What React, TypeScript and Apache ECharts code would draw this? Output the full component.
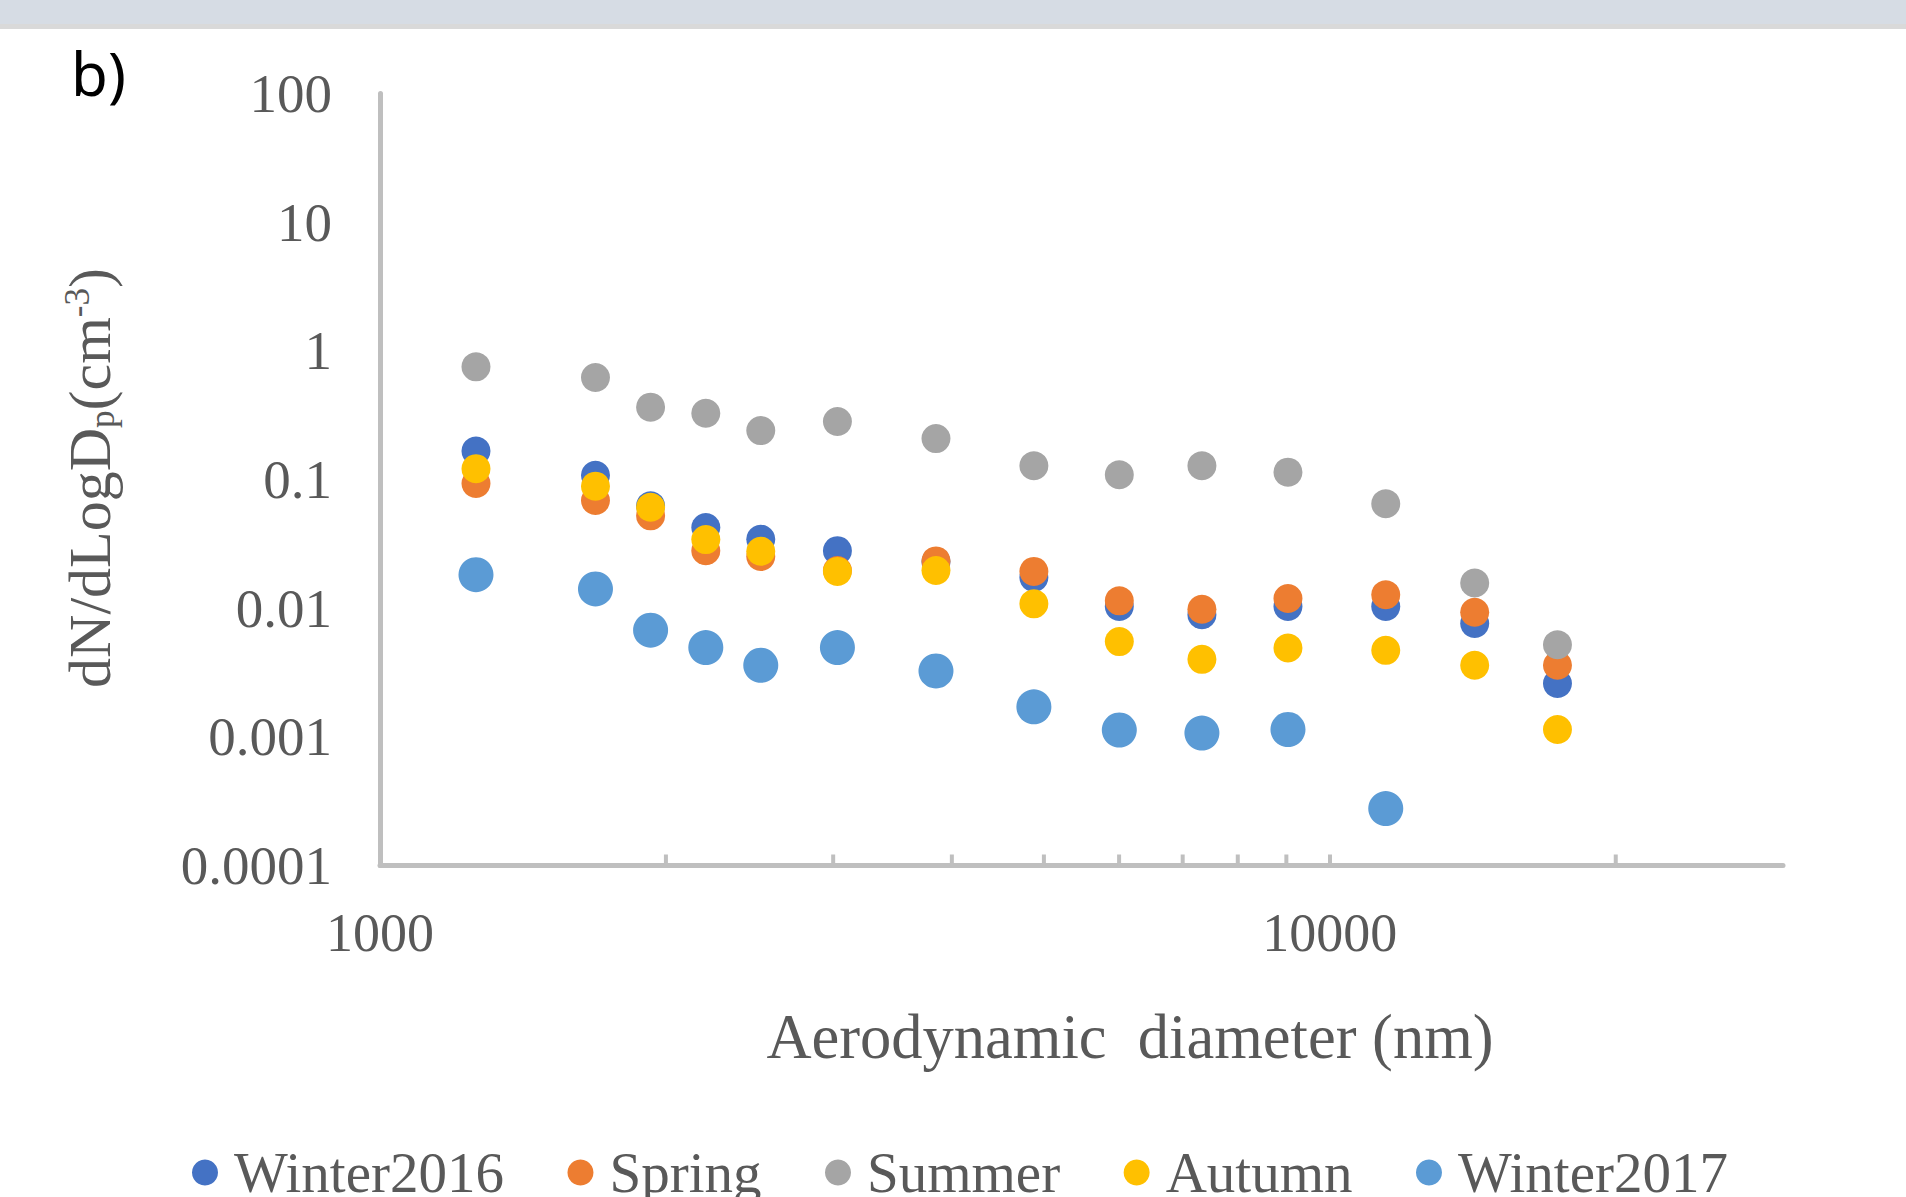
import React, { useEffect, useRef } from 'react';
import * as echarts from 'echarts';

const seriesNames = ['Winter2016', 'Spring', 'Summer', 'Autumn', 'Winter2017'];
const seriesColors = ['#4472C4', '#ED7D31', '#A5A5A5', '#FFC000', '#5B9BD5'];

// Aerodynamic diameter (nm) of each size bin
const diameters = [1262, 1686, 1927, 2203, 2517, 3031, 3849, 4880, 6003, 7334, 9035, 11452, 14208, 17365];

const winter2016 = [0.1665, 0.108, 0.0625, 0.0423, 0.0343, 0.028, 0.0229, 0.0173, 0.0103, 0.0089, 0.0103, 0.0103, 0.0076, 0.0026];
const spring = [0.0932, 0.0687, 0.0522, 0.028, 0.0252, 0.0196, 0.0233, 0.0193, 0.0114, 0.0098, 0.0119, 0.0127, 0.0093, 0.0036];
const summer = [0.751, 0.621, 0.365, 0.327, 0.24, 0.282, 0.208, 0.128, 0.109, 0.128, 0.114, 0.0648, 0.0157, 0.0052];
const autumn = [0.1214, 0.0888, 0.0609, 0.0341, 0.0277, 0.0193, 0.0196, 0.0108, 0.0055, 0.004, 0.0049, 0.0047, 0.0036, 0.00114];
const winter2017 = [0.0182, 0.0141, 0.00675, 0.00494, 0.0036, 0.00494, 0.00325, 0.00171, 0.00113, 0.00107, 0.00114, 0.000277];

const seriesValues = [winter2016, spring, summer, autumn, winter2017];
const markerSizes = [29, 29, 29, 29, 35];

const xTickLabels = ['1000', '10000'];
const xMinorTicks = [2000, 3000, 4000, 5000, 6000, 7000, 8000, 9000, 20000];
const yTickLabels = ['0.0001', '0.001', '0.01', '0.1', '1', '10', '100'];

const X_MIN = 1000;
const X_MAX = 30000;
const Y_MIN = 0.0001;
const Y_MAX = 100;

const SERIF = "'Liberation Serif', 'Times New Roman', serif";
const GREY_TEXT = '#595959';
const AXIS_GREY = '#BFBFBF';

export default function App() {
  const ref = useRef<HTMLDivElement>(null);

  useEffect(() => {
    if (!ref.current) return;
    const chart = echarts.init(ref.current, undefined, { renderer: 'svg' });

    const scatterSeries = seriesNames.map((name, i) => ({
      name,
      type: 'scatter',
      symbol: 'circle',
      symbolSize: markerSizes[i],
      itemStyle: { color: seriesColors[i], opacity: 1 },
      emphasis: { disabled: true },
      data: seriesValues[i].map((v, j) => [diameters[j], v]),
    }));

    const option: any = {
      animation: false,
      backgroundColor: '#ffffff',
      grid: { left: 380, top: 93.5, right: 123, bottom: 331.5, containLabel: false },
      legend: {
        data: seriesNames.map((n) => ({ name: n, icon: 'circle' })),
        left: 192,
        top: 1144,
        padding: 0,
        itemWidth: 48,
        itemHeight: 26,
        itemGap: 63.5,
        textStyle: { fontFamily: SERIF, fontSize: 57, color: GREY_TEXT },
        selectedMode: false,
      },
      xAxis: {
        type: 'log',
        logBase: 10,
        min: X_MIN,
        max: X_MAX,
        axisLine: { show: true, lineStyle: { color: AXIS_GREY, width: 5 } },
        axisTick: { show: true, inside: true, length: 11, lineStyle: { color: AXIS_GREY, width: 4 } },
        splitLine: { show: false },
        minorTick: { show: false },
        axisLabel: {
          margin: 40,
          fontFamily: SERIF,
          fontSize: 54,
          color: GREY_TEXT,
          showMaxLabel: false,
          formatter: (v: number) => {
            const s = String(Math.round(v));
            return xTickLabels.includes(s) ? s : '';
          },
        },
      },
      yAxis: {
        type: 'log',
        logBase: 10,
        min: Y_MIN,
        max: Y_MAX,
        axisLine: { show: true, lineStyle: { color: AXIS_GREY, width: 5 } },
        axisTick: { show: false },
        splitLine: { show: false },
        axisLabel: {
          margin: 48,
          fontFamily: SERIF,
          fontSize: 55,
          color: GREY_TEXT,
          formatter: (v: number) => {
            const found = yTickLabels.find((s) => Math.abs(Math.log10(Number(s)) - Math.log10(v)) < 0.01);
            return found ?? '';
          },
        },
      },
      series: [
        ...scatterSeries,
        {
          name: 'minorTicks',
          type: 'custom',
          silent: true,
          clip: false,
          data: xMinorTicks.map((t) => [t, Y_MIN]),
          renderItem: (_params: any, api: any) => {
            const p = api.coord([api.value(0), api.value(1)]);
            return {
              type: 'line',
              shape: { x1: p[0], y1: p[1], x2: p[0], y2: p[1] - 11 },
              style: { stroke: AXIS_GREY, lineWidth: 4 },
            };
          },
          z: 1,
        },
      ],
      graphic: [
        { type: 'rect', left: 0, top: 0, shape: { x: 0, y: 0, width: 1906, height: 24 }, style: { fill: '#D6DCE4' }, silent: true },
        { type: 'rect', left: 0, top: 24, shape: { x: 0, y: 0, width: 1906, height: 5 }, style: { fill: '#D9D9D9' }, silent: true },
        {
          type: 'text',
          x: 71,
          y: 73,
          style: {
            text: 'b)',
            fontFamily: "'Noto Sans', 'Open Sans', sans-serif",
            fontSize: 60,
            fill: '#000000',
            textAlign: 'left',
            textVerticalAlign: 'middle',
          },
        },
        {
          type: 'text',
          x: 1130,
          y: 1037,
          style: {
            text: 'Aerodynamic  diameter (nm)',
            fontFamily: SERIF,
            fontSize: 62.5,
            fill: GREY_TEXT,
            textAlign: 'center',
            textVerticalAlign: 'middle',
          },
        },
        {
          type: 'text',
          x: 90,
          y: 478,
          rotation: Math.PI / 2,
          style: {
            text: '{a|dN/dLogD}{sub|p}{a|(cm}{sup|-3}{a|)}',
            fontFamily: SERIF,
            fontSize: 60,
            fill: GREY_TEXT,
            textAlign: 'center',
            textVerticalAlign: 'middle',
            rich: {
              a: { fontFamily: SERIF, fontSize: 60, lineHeight: 60, fill: GREY_TEXT, verticalAlign: 'middle' },
              sub: { fontFamily: SERIF, fontSize: 35, lineHeight: 12, fill: GREY_TEXT, verticalAlign: 'bottom' },
              sup: { fontFamily: SERIF, fontSize: 35, lineHeight: 35, fill: GREY_TEXT, verticalAlign: 'top' },
            },
          },
        },
      ],
    };

    chart.setOption(option);
    return () => chart.dispose();
  }, []);

  return (
    <div
      ref={ref}
      style={{ position: 'fixed', left: 0, top: 0, width: 1906, height: 1197, background: '#ffffff' }}
    />
  );
}
